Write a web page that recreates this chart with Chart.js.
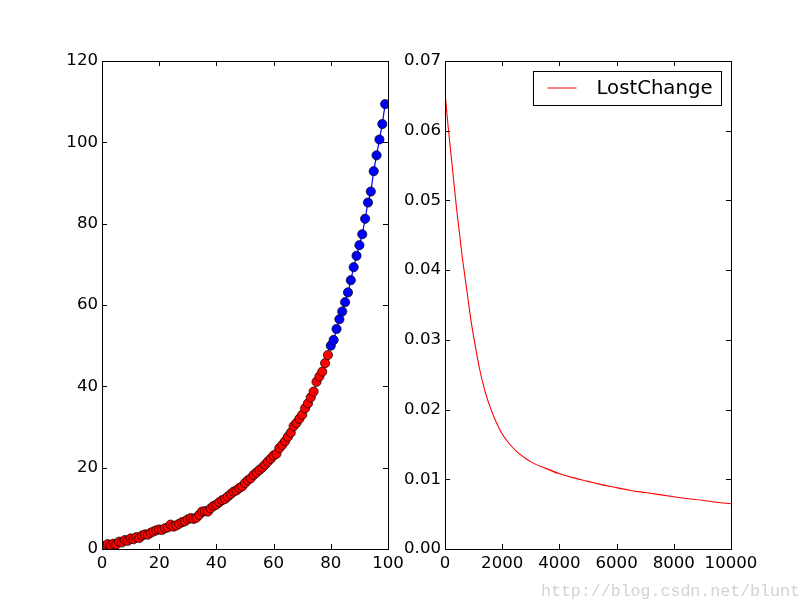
<!DOCTYPE html>
<html>
<head>
<meta charset="utf-8">
<script src="https://cdn.jsdelivr.net/npm/chart.js@4/dist/chart.umd.min.js"></script>
<style>
  html, body { margin: 0; padding: 0; background: #fff; }
  #wrap { position: relative; width: 812px; height: 612px; overflow: hidden; background: #fff; }
  canvas { position: absolute; left: 0; top: 0; }
  #wm { position: absolute; left: 541px; top: 582px; font-family: "Liberation Mono", monospace; font-size: 16.6px; color: #d2d2d2; white-space: nowrap; }
</style>
</head>
<body>
<div id="wrap">
  <canvas id="c1" width="812" height="612"></canvas>
  <canvas id="c2" width="812" height="612"></canvas>
  <div id="wm">http://blog.csdn.net/blunt</div>
</div>
<script>
// ---------- data ----------
const trainX = [];
for (let i = 0; i < 80; i++) trainX.push(i);
const trainY = [0.8,0.6,1.2,0.9,1.3,1.1,1.8,1.6,2.2,2.0,
                2.6,2.4,2.9,2.7,3.3,3.6,3.5,4.0,4.3,4.6,
                4.8,4.7,5.1,5.3,6.0,5.5,5.8,6.2,6.6,6.8,
                7.3,7.6,7.4,7.7,8.4,9.2,9.3,9.2,10.0,10.6,
                10.9,11.5,12.0,12.3,12.9,13.5,14.1,14.4,15.0,15.4,
                16.2,16.9,17.4,18.2,18.8,19.4,20.0,20.7,21.5,22.2,
                23.0,23.4,24.8,25.6,26.5,27.6,28.6,30.2,31.0,32.0,
                33.0,34.6,35.8,37.3,38.7,41.1,42.4,43.6,45.7,47.7];
const predX = [];
for (let i = 80; i < 100; i++) predX.push(i);
const predY = [50.0,51.4,54.1,56.5,58.4,60.7,63.1,66.1,69.3,72.1,
               74.7,77.4,81.2,85.2,87.9,92.9,96.8,100.7,104.5,109.4];

const lossX = [0,100,200,300,400,500,600,700,800,900,1000,1200,1400,1600,1800,2000,2250,2500,2750,3000,
               3500,4000,4500,5000,5500,6000,6500,7000,7500,8000,8500,9000,9500,10000];
const lossY = [0.0655,0.0610,0.0570,0.0530,0.0490,0.0455,0.0420,0.0390,0.0360,0.0330,0.0305,0.0260,0.0226,0.0201,0.0181,0.0165,0.0151,0.0140,0.0132,0.0125,
               0.0116,0.0108,0.0102,0.0097,0.0092,0.0088,0.0084,0.0081,0.0078,0.0075,0.0072,0.0070,0.0067,0.0065];

const leftXTicks = [0,20,40,60,80,100];
const leftYTicks = [0,20,40,60,80,100,120];
const rightXTicks = [0,2000,4000,6000,8000,10000];
const rightYTicks = [0,0.01,0.02,0.03,0.04,0.05,0.06,0.07];
const legendLabel = 'LostChange';

// ---------- helpers ----------
const FONT = { family: 'DejaVu Sans', size: 16.6 };
function pts(xs, ys) { return xs.map((x, i) => ({ x: x, y: ys[i] })); }

const frame = {
  id: 'frame',
  afterDatasetsDraw(chart) {
    const ctx = chart.ctx, a = chart.chartArea;
    ctx.save();
    ctx.strokeStyle = '#000';
    ctx.lineWidth = 1;
    const L = 5;
    const xs = chart.scales.x, ys = chart.scales.y;
    ctx.beginPath();
    xs.ticks.forEach(t => {
      const p = Math.round(xs.getPixelForValue(t.value)) + 0.5;
      ctx.moveTo(p, a.bottom); ctx.lineTo(p, a.bottom - L);
      ctx.moveTo(p, a.top); ctx.lineTo(p, a.top + L);
    });
    ys.ticks.forEach(t => {
      const p = Math.round(ys.getPixelForValue(t.value)) + 0.5;
      ctx.moveTo(a.left, p); ctx.lineTo(a.left + L, p);
      ctx.moveTo(a.right, p); ctx.lineTo(a.right - L, p);
    });
    ctx.stroke();
    ctx.strokeRect(Math.round(a.left) + 0.5, Math.round(a.top) + 0.5,
                   Math.round(a.right - a.left), Math.round(a.bottom - a.top));
    ctx.restore();
  }
};

const legendBox = {
  id: 'legendBox',
  afterDraw(chart) {
    const ctx = chart.ctx, a = chart.chartArea;
    ctx.save();
    ctx.font = '19.7px "DejaVu Sans"';
    const tw = ctx.measureText(legendLabel).width;
    const w = 14 + 29 + 20 + tw + 9, h = 34;
    const x = Math.round(a.right - 10 - w) + 0.5, y = Math.round(a.top + 10) + 0.5;
    ctx.fillStyle = '#fff';
    ctx.fillRect(x, y, w, h);
    ctx.strokeStyle = '#000'; ctx.lineWidth = 1;
    ctx.strokeRect(x, y, Math.round(w), h);
    ctx.strokeStyle = chart.data.datasets[0].borderColor;
    ctx.beginPath();
    ctx.moveTo(x + 14, y + 16.5); ctx.lineTo(x + 43, y + 16.5);
    ctx.stroke();
    ctx.fillStyle = '#000';
    ctx.textBaseline = 'middle';
    ctx.fillText(legendLabel, x + 63, y + 17);
    ctx.restore();
  }
};

function scaleX(min, max, ticks, cb) {
  return {
    type: 'linear', min: min, max: max,
    grid: { display: false, drawTicks: false, tickLength: 0 }, border: { display: false },
    ticks: { color: '#000', font: FONT, padding: 5, maxRotation: 0, autoSkip: false, callback: cb },
    afterBuildTicks(s) { s.ticks = ticks.map(v => ({ value: v })); },
    afterFit(s) { s.height = 63; s.paddingLeft = 0; s.paddingRight = 0; }
  };
}
function scaleY(min, max, ticks, width, cb) {
  return {
    type: 'linear', min: min, max: max,
    grid: { display: false, drawTicks: false, tickLength: 0 }, border: { display: false },
    ticks: { color: '#000', font: FONT, padding: 4, autoSkip: false, callback: cb },
    afterBuildTicks(s) { s.ticks = ticks.map(v => ({ value: v })); },
    afterFit(s) { s.width = width; s.paddingTop = 0; s.paddingBottom = 0; }
  };
}

const common = {
  responsive: false, animation: false, devicePixelRatio: 1,
  plugins: { legend: { display: false }, tooltip: { enabled: false } }
};

// ---------- left chart ----------
new Chart(document.getElementById('c1'), {
  type: 'scatter',
  data: {
    datasets: [
      { data: pts(trainX, trainY), showLine: true, borderColor: '#ff0000', borderWidth: 1,
        pointBackgroundColor: '#ff0000', pointBorderColor: '#000', pointBorderWidth: 0.7,
        pointRadius: 4.6, clip: 0 },
      { data: pts(predX, predY), showLine: true, borderColor: '#0000ff', borderWidth: 1.2,
        pointBackgroundColor: '#0000ff', pointBorderColor: '#000', pointBorderWidth: 0.7,
        pointRadius: 4.6, clip: 0 }
    ]
  },
  options: Object.assign({}, common, {
    layout: { padding: { left: 0, right: 812 - 388, top: 61, bottom: 0 } },
    scales: {
      x: scaleX(0, 100, leftXTicks, v => String(v)),
      y: scaleY(0, 120, leftYTicks, 102, v => String(v))
    }
  }),
  plugins: [frame]
});

// ---------- right chart ----------
new Chart(document.getElementById('c2'), {
  type: 'scatter',
  data: {
    datasets: [
      { label: legendLabel, data: pts(lossX, lossY), showLine: true, borderColor: '#ff0000',
        borderWidth: 1.1, pointRadius: 0, cubicInterpolationMode: 'monotone', clip: 0 }
    ]
  },
  options: Object.assign({}, common, {
    layout: { padding: { left: 394, right: 812 - 731, top: 61, bottom: 0 } },
    scales: {
      x: scaleX(0, 10000, rightXTicks, v => String(v)),
      y: scaleY(0, 0.07, rightYTicks, 51, v => Number(v).toFixed(2))
    }
  }),
  plugins: [frame, legendBox]
});
</script>
</body>
</html>
